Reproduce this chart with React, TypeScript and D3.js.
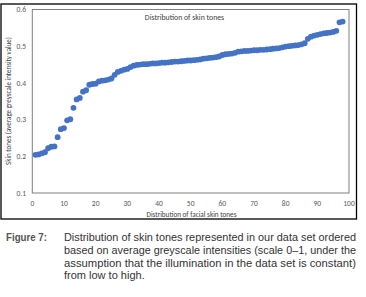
import React from "react";
import * as d3 from "d3";

const xValues: number[] = Array.from({ length: 98 }, (_, i) => i + 1);
const skinTone: number[] = [
  0.204, 0.205, 0.208, 0.211, 0.222, 0.226, 0.227, 0.252, 0.274, 0.277,
  0.298, 0.301, 0.332, 0.355, 0.359, 0.376, 0.38, 0.395, 0.397, 0.398,
  0.404, 0.406, 0.407, 0.409, 0.412, 0.422, 0.43, 0.433, 0.436, 0.438,
  0.443, 0.447, 0.449, 0.45, 0.451, 0.451, 0.452, 0.453, 0.453, 0.454,
  0.455, 0.455, 0.456, 0.457, 0.458, 0.458, 0.459, 0.46, 0.461, 0.461,
  0.462, 0.463, 0.464, 0.466, 0.467, 0.468, 0.469, 0.47, 0.472, 0.476,
  0.478, 0.479, 0.48, 0.482, 0.485, 0.486, 0.487, 0.487, 0.488, 0.489,
  0.489, 0.49, 0.49, 0.491, 0.492, 0.493, 0.494, 0.495, 0.497, 0.499,
  0.5, 0.501, 0.502, 0.503, 0.505, 0.508, 0.52, 0.526, 0.529, 0.531,
  0.533, 0.535, 0.536, 0.537, 0.539, 0.542, 0.565, 0.567,
];
const xTicks: number[] = [0, 10, 20, 30, 40, 50, 60, 70, 80, 90, 100];
const yTicks: number[] = [0.1, 0.2, 0.3, 0.4, 0.5, 0.6];
const chartTitle = "Distribution of skin tones";
const xTitle = "Distribution of facial skin tones";
const yTitle = "Skin tones (average greyscale intensity value)";
const figLabel = "Figure 7:";
const captionLines: string[] = [
  "Distribution of skin tones represented in our data set ordered",
  "based on average greyscale intensities (scale 0–1, under the",
  "assumption that the illumination in the data set is constant)",
  "from low to high.",
];

export default function App() {
  const left = 32.3, right = 349, top = 9.5, bottom = 193;
  const x = d3.scaleLinear().domain([0, 100]).range([left, right]);
  const y = d3.scaleLinear().domain([0.1, 0.6]).range([bottom, top]);
  const axisFont = "Carlito, 'Liberation Sans', 'DejaVu Sans', sans-serif";
  const capFont = "'Liberation Sans Narrow', 'Arial Narrow', 'Liberation Sans', sans-serif";
  const capX = 64, capW = 292;
  return (
    <svg width={366} height={297} style={{ position: "absolute", left: 0, top: 0, background: "#fff" }}>
      <rect x={1} y={4} width={355.5} height={215} fill="#fff" stroke="#000" strokeWidth={1.3} />
      <rect x={left} y={top} width={right - left} height={bottom - top} fill="none" stroke="#7f7f7f" strokeWidth={1} />
      {yTicks.map((t) => (
        <text key={"y" + t} x={26} y={y(t)} dy="0.35em" textAnchor="end" fontSize={7.5} fill="#595959" fontFamily={axisFont}>
          {t.toFixed(1)}
        </text>
      ))}
      {xTicks.map((t) => (
        <text key={"x" + t} x={x(t)} y={203} dy="0.35em" textAnchor="middle" fontSize={7.5} fill="#595959" fontFamily={axisFont}>
          {t}
        </text>
      ))}
      <text x={184.5} y={17.5} dy="0.35em" textAnchor="middle" fontSize={7.8} fill="#404040" fontFamily={axisFont}>
        {chartTitle}
      </text>
      <text x={191.5} y={214.5} dy="0.35em" textAnchor="middle" fontSize={7.2} fill="#404040" fontFamily={axisFont}>
        {xTitle}
      </text>
      <text transform={`translate(9,101) rotate(-90)`} dy="0.35em" textAnchor="middle" fontSize={7} fill="#404040" fontFamily={axisFont}>
        {yTitle}
      </text>
      {xValues.map((v, i) => (
        <circle key={i} cx={x(v)} cy={y(skinTone[i])} r={2.9} fill="#4472C4" />
      ))}
      <text x={6} y={241} fontSize={11} fontWeight="bold" fill="#555" fontFamily={capFont} textLength={41} lengthAdjust="spacingAndGlyphs">
        {figLabel}
      </text>
      {captionLines.map((line, i) => (
        <text
          key={i}
          x={capX}
          y={241 + i * 12.8}
          fontSize={11}
          fill="#333"
          fontFamily={capFont}
          {...(i < captionLines.length - 1 ? { textLength: capW, lengthAdjust: "spacingAndGlyphs" } : {})}
        >
          {line}
        </text>
      ))}
    </svg>
  );
}
